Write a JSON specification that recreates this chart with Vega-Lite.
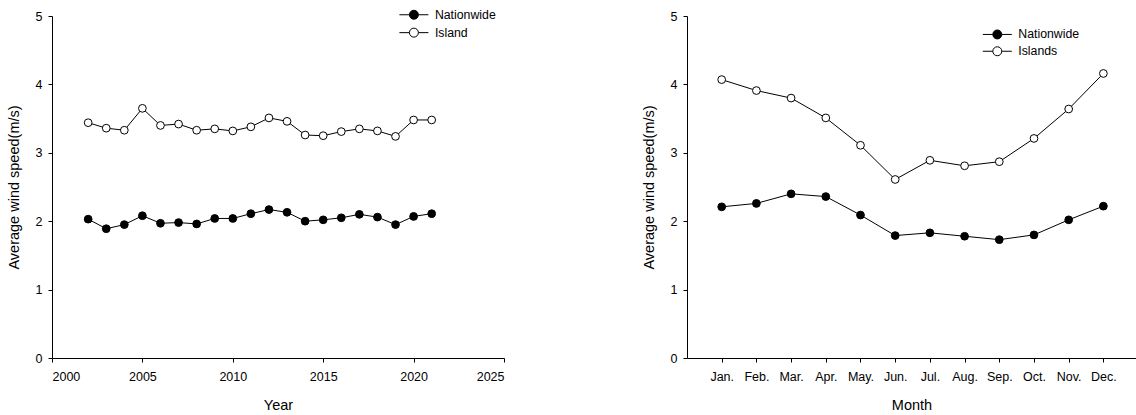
{
  "$schema": "https://vega.github.io/schema/vega-lite/v6.json",
  "background": "white",
  "padding": {"left": 6, "top": 6, "right": 0, "bottom": 0},
  "spacing": 136,
  "config": {
    "font": "Liberation Sans",
    "view": {"stroke": null},
    "axis": {
      "grid": false,
      "domainColor": "black",
      "tickColor": "black",
      "labelColor": "black",
      "titleColor": "black",
      "labelFont": "Liberation Sans",
      "labelFontSize": 12.5,
      "titleFont": "Liberation Sans",
      "titleFontSize": 14.5,
      "titleFontWeight": "normal",
      "tickSize": 4,
      "domainWidth": 1,
      "tickWidth": 1
    },
    "axisX": {"labelPadding": 8.5, "titlePadding": 15},
    "axisY": {"labelPadding": 6, "titlePadding": 14},
    "legend": {
      "labelFont": "Liberation Sans",
      "labelFontSize": 12.3,
      "labelColor": "black",
      "symbolType": "M-2,0H-0.62M0.62,0H2M-0.62,0A0.62,0.62,0,1,0,0.62,0A0.62,0.62,0,1,0,-0.62,0Z",
      "symbolSize": 210,
      "symbolStrokeColor": "black",
      "symbolStrokeWidth": 1,
      "labelOffset": 13,
      "padding": 0,
      "title": null
    }
  },
  "datasets": {
    "annual": [
      {"year": 2002, "series": "Nationwide", "speed": 2.03},
      {"year": 2003, "series": "Nationwide", "speed": 1.89},
      {"year": 2004, "series": "Nationwide", "speed": 1.95},
      {"year": 2005, "series": "Nationwide", "speed": 2.08},
      {"year": 2006, "series": "Nationwide", "speed": 1.97},
      {"year": 2007, "series": "Nationwide", "speed": 1.98},
      {"year": 2008, "series": "Nationwide", "speed": 1.96},
      {"year": 2009, "series": "Nationwide", "speed": 2.04},
      {"year": 2010, "series": "Nationwide", "speed": 2.04},
      {"year": 2011, "series": "Nationwide", "speed": 2.11},
      {"year": 2012, "series": "Nationwide", "speed": 2.17},
      {"year": 2013, "series": "Nationwide", "speed": 2.13},
      {"year": 2014, "series": "Nationwide", "speed": 2.00},
      {"year": 2015, "series": "Nationwide", "speed": 2.02},
      {"year": 2016, "series": "Nationwide", "speed": 2.05},
      {"year": 2017, "series": "Nationwide", "speed": 2.10},
      {"year": 2018, "series": "Nationwide", "speed": 2.06},
      {"year": 2019, "series": "Nationwide", "speed": 1.95},
      {"year": 2020, "series": "Nationwide", "speed": 2.07},
      {"year": 2021, "series": "Nationwide", "speed": 2.11},
      {"year": 2002, "series": "Island", "speed": 3.44},
      {"year": 2003, "series": "Island", "speed": 3.36},
      {"year": 2004, "series": "Island", "speed": 3.33},
      {"year": 2005, "series": "Island", "speed": 3.65},
      {"year": 2006, "series": "Island", "speed": 3.40},
      {"year": 2007, "series": "Island", "speed": 3.42},
      {"year": 2008, "series": "Island", "speed": 3.33},
      {"year": 2009, "series": "Island", "speed": 3.35},
      {"year": 2010, "series": "Island", "speed": 3.32},
      {"year": 2011, "series": "Island", "speed": 3.38},
      {"year": 2012, "series": "Island", "speed": 3.51},
      {"year": 2013, "series": "Island", "speed": 3.46},
      {"year": 2014, "series": "Island", "speed": 3.26},
      {"year": 2015, "series": "Island", "speed": 3.25},
      {"year": 2016, "series": "Island", "speed": 3.31},
      {"year": 2017, "series": "Island", "speed": 3.35},
      {"year": 2018, "series": "Island", "speed": 3.32},
      {"year": 2019, "series": "Island", "speed": 3.24},
      {"year": 2020, "series": "Island", "speed": 3.48},
      {"year": 2021, "series": "Island", "speed": 3.48}
    ],
    "monthly": [
      {"month": 1, "series": "Nationwide", "speed": 2.21},
      {"month": 2, "series": "Nationwide", "speed": 2.26},
      {"month": 3, "series": "Nationwide", "speed": 2.40},
      {"month": 4, "series": "Nationwide", "speed": 2.36},
      {"month": 5, "series": "Nationwide", "speed": 2.09},
      {"month": 6, "series": "Nationwide", "speed": 1.79},
      {"month": 7, "series": "Nationwide", "speed": 1.83},
      {"month": 8, "series": "Nationwide", "speed": 1.78},
      {"month": 9, "series": "Nationwide", "speed": 1.73},
      {"month": 10, "series": "Nationwide", "speed": 1.80},
      {"month": 11, "series": "Nationwide", "speed": 2.02},
      {"month": 12, "series": "Nationwide", "speed": 2.22},
      {"month": 1, "series": "Islands", "speed": 4.07},
      {"month": 2, "series": "Islands", "speed": 3.91},
      {"month": 3, "series": "Islands", "speed": 3.80},
      {"month": 4, "series": "Islands", "speed": 3.51},
      {"month": 5, "series": "Islands", "speed": 3.11},
      {"month": 6, "series": "Islands", "speed": 2.61},
      {"month": 7, "series": "Islands", "speed": 2.89},
      {"month": 8, "series": "Islands", "speed": 2.81},
      {"month": 9, "series": "Islands", "speed": 2.87},
      {"month": 10, "series": "Islands", "speed": 3.21},
      {"month": 11, "series": "Islands", "speed": 3.64},
      {"month": 12, "series": "Islands", "speed": 4.16}
    ]
  },
  "hconcat": [
    {
      "width": 452,
      "height": 342,
      "data": {"name": "annual"},
      "encoding": {
        "x": {"field": "year", "type": "quantitative", "title": "Year",
              "scale": {"domain": [2000, 2025], "nice": false, "zero": false},
              "axis": {"values": [2000, 2005, 2010, 2015, 2020, 2025], "format": "d"}},
        "y": {"field": "speed", "type": "quantitative", "title": "Average wind speed(m/s)",
              "scale": {"domain": [0, 5], "nice": false},
              "axis": {"values": [0, 1, 2, 3, 4, 5]}}
      },
      "layer": [
        {"mark": {"type": "line", "color": "black", "strokeWidth": 1}, "encoding": {"detail": {"field": "series"}}},
        {"mark": {"type": "point", "shape": "circle", "filled": true, "stroke": "black", "strokeWidth": 1, "size": 60, "opacity": 1},
         "encoding": {"fill": {"field": "series", "type": "nominal",
           "scale": {"domain": ["Nationwide", "Island"], "range": ["black", "white"]},
           "legend": {"orient": "none", "legendX": 353.9, "legendY": -9.25, "rowPadding": 2.9}}}}
      ]
    },
    {
      "width": 449,
      "height": 342,
      "data": {"name": "monthly"},
      "encoding": {
        "x": {"field": "month", "type": "quantitative", "title": "Month",
              "scale": {"domain": [0, 12.94], "nice": false, "zero": false},
              "axis": {"values": [1, 2, 3, 4, 5, 6, 7, 8, 9, 10, 11, 12],
                       "labelExpr": "['Jan.','Feb.','Mar.','Apr.','May.','Jun.','Jul.','Aug.','Sep.','Oct.','Nov.','Dec.'][datum.value - 1]"}},
        "y": {"field": "speed", "type": "quantitative", "title": "Average wind speed(m/s)",
              "scale": {"domain": [0, 5], "nice": false},
              "axis": {"values": [0, 1, 2, 3, 4, 5]}}
      },
      "layer": [
        {"mark": {"type": "line", "color": "black", "strokeWidth": 1}, "encoding": {"detail": {"field": "series"}}},
        {"mark": {"type": "point", "shape": "circle", "filled": true, "stroke": "black", "strokeWidth": 1, "size": 60, "opacity": 1},
         "encoding": {"fill": {"field": "series", "type": "nominal",
           "scale": {"domain": ["Nationwide", "Islands"], "range": ["black", "white"]},
           "legend": {"orient": "none", "legendX": 302.3, "legendY": 10.45, "rowPadding": 1.8}}}}
      ]
    }
  ],
  "resolve": {"scale": {"fill": "independent"}, "legend": {"fill": "independent"}}
}
